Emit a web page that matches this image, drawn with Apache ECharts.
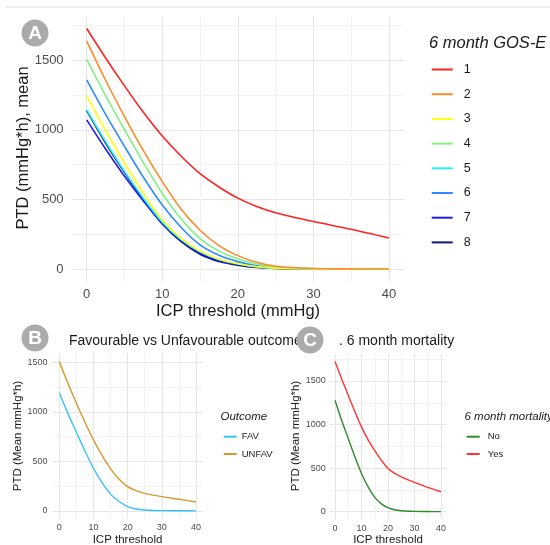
<!DOCTYPE html>
<html>
<head>
<meta charset="utf-8">
<script src="https://cdn.jsdelivr.net/npm/echarts@6.0.0/dist/echarts.min.js"></script>
<style>
html,body{margin:0;padding:0;background:#fff;}
#chart{width:550px;height:545px;}
</style>
</head>
<body>
<div id="chart"></div>
<script>
// ---- data ----
var thresholds = [0, 2.5, 5, 7.5, 10, 12.5, 15, 17.5, 20, 22.5, 25, 30, 35, 40];

var gosCategories = ['1', '2', '3', '4', '5', '6', '7', '8'];
var gos1 = [1726, 1515, 1315, 1125, 955, 810, 685, 590, 510, 450, 405, 342, 287, 224];
var gos2 = [1636, 1355, 1095, 850, 628, 430, 280, 170, 98, 50, 22, 6, 3, 2];
var gos3 = [1243, 995, 762, 545, 353, 220, 130, 72, 40, 18, 8, 3, 1, 0];
var gos4 = [1505, 1245, 1002, 765, 545, 360, 220, 130, 75, 38, 16, 5, 2, 1];
var gos5 = [1145, 915, 702, 510, 338, 212, 125, 70, 38, 18, 8, 3, 1, 0];
var gos6 = [1357, 1110, 881, 660, 461, 300, 175, 100, 55, 25, 11, 4, 2, 1];
var gos7 = [1071, 862, 667, 490, 328, 205, 115, 62, 34, 16, 7, 2, 1, 0];
var gos8 = [1138, 905, 695, 500, 325, 198, 108, 56, 30, 13, 6, 2, 1, 0];

var outcomeCategories = ['FAV', 'UNFAV'];
var fav = [1194, 985, 795, 605, 431, 285, 170, 95, 44, 20, 10, 3, 2, 1];
var unfav = [1507, 1290, 1087, 895, 717, 560, 425, 320, 246, 205, 178, 145, 118, 91];

var mortalityCategories = ['No', 'Yes'];
var mortNo = [1279, 1050, 840, 630, 439, 285, 165, 90, 46, 22, 11, 4, 2, 1];
var mortYes = [1725, 1525, 1336, 1150, 973, 825, 700, 590, 496, 440, 401, 336, 279, 229];

var xGridValues = [0, 5, 10, 15, 20, 25, 30, 35, 40];
var xLabelValues = [0, 10, 20, 30, 40];
var yGridValues = [0, 250, 500, 750, 1000, 1250, 1500, 1750];
var yGridValuesB = [0, 250, 500, 750, 1000, 1250, 1500];
var yLabelValues = [0, 500, 1000, 1500];

// ---- styles ----
var gosColors = ['#FF2222', '#FF8A2A', '#FFFF10', '#80F080', '#22F2F2', '#2E8CFF', '#1E1EF0', '#14147A'];
var outcomeColors = ['#36C2F2', '#D49A2E'];
var mortColors = ['#2E8B2E', '#FF3333'];
var FONT = '"Liberation Sans", Arial, sans-serif';
var TICK = '#4d4d4d';
var TITLE = '#1a1a1a';
var SMOOTH = 0.3;

function pairs(vals) {
  return thresholds.map(function (x, i) { return [x, vals[i]]; });
}
function plain(v) { return String(v); }

function xAx(gi, fs, margin) {
  return {
    type: 'value', gridIndex: gi, min: -2, max: 42,
    axisLine: { show: false },
    axisTick: { show: false, customValues: xGridValues },
    axisLabel: { customValues: xLabelValues, formatter: plain, color: TICK, fontSize: fs, fontFamily: FONT, margin: margin },
    splitLine: { show: true, lineStyle: { color: ['#e6e6e6', '#f2f2f2'], width: 1.1 } }
  };
}
function yAx(gi, min, max, gridVals, fs, margin) {
  return {
    type: 'value', gridIndex: gi, min: min, max: max,
    axisLine: { show: false },
    axisTick: { show: false, customValues: gridVals },
    axisLabel: { customValues: yLabelValues, formatter: plain, color: TICK, fontSize: fs, fontFamily: FONT, margin: margin },
    splitLine: { show: true, lineStyle: { color: ['#e6e6e6', '#f2f2f2'], width: 1.1 } }
  };
}

var gosData = [gos1, gos2, gos3, gos4, gos5, gos6, gos7, gos8];
var series = [];
gosCategories.forEach(function (name, i) {
  series.push({
    name: name, type: 'line', xAxisIndex: 0, yAxisIndex: 0,
    data: pairs(gosData[i]), symbol: 'none', smooth: SMOOTH,
    lineStyle: { color: gosColors[i], width: 1.6 }, itemStyle: { color: gosColors[i] },
    z: 10 - i, animation: false
  });
});
[fav, unfav].forEach(function (vals, i) {
  series.push({
    name: outcomeCategories[i], type: 'line', xAxisIndex: 1, yAxisIndex: 1,
    data: pairs(vals), symbol: 'none', smooth: SMOOTH,
    lineStyle: { color: outcomeColors[i], width: 1.4 }, itemStyle: { color: outcomeColors[i] },
    animation: false
  });
});
[mortNo, mortYes].forEach(function (vals, i) {
  series.push({
    name: mortalityCategories[i], type: 'line', xAxisIndex: 2, yAxisIndex: 2,
    data: pairs(vals), symbol: 'none', smooth: SMOOTH,
    lineStyle: { color: mortColors[i], width: 1.4 }, itemStyle: { color: mortColors[i] },
    animation: false
  });
});

function circleLabel(cx, cy, letter) {
  return [
    { type: 'circle', shape: { cx: cx, cy: cy, r: 13.5 }, style: { fill: '#ababab' }, z: 100 },
    { type: 'text', x: cx, y: cy + 1, style: { text: letter, fill: '#fff', font: 'bold 19px ' + FONT, align: 'center', verticalAlign: 'middle' }, z: 101 }
  ];
}
function txt(x, y, s, font, opts) {
  var o = { type: 'text', x: x, y: y, style: { text: s, fill: TITLE, font: font, align: 'left', verticalAlign: 'middle' }, z: 50 };
  if (opts) {
    if (opts.align) o.style.align = opts.align;
    if (opts.rotation) o.rotation = opts.rotation;
  }
  return o;
}

var graphics = [
  { type: 'line', shape: { x1: 6, y1: 7, x2: 550, y2: 7 }, style: { stroke: '#d9d9d9', lineWidth: 1 } },
  txt(238, 311, 'ICP threshold (mmHg)', '16.5px ' + FONT, { align: 'center' }),
  txt(23, 148, 'PTD (mmHg*h), mean', '16.5px ' + FONT, { align: 'center', rotation: Math.PI / 2 }),
  txt(127.5, 540, 'ICP threshold', '11.5px ' + FONT, { align: 'center' }),
  txt(18, 436, 'PTD (Mean mmHg*h)', '11.5px ' + FONT, { align: 'center', rotation: Math.PI / 2 }),
  txt(388, 540, 'ICP threshold', '11.5px ' + FONT, { align: 'center' }),
  txt(295.5, 436, 'PTD (Mean mmHg*h)', '11.5px ' + FONT, { align: 'center', rotation: Math.PI / 2 }),
  txt(69, 341, 'Favourable vs Unfavourable outcome', '14px ' + FONT),
  txt(339, 341, '. 6 month mortality', '14px ' + FONT),
  txt(429, 43, '6 month GOS-E', 'italic 16.5px ' + FONT),
  txt(220.5, 417, 'Outcome', 'italic 11.5px ' + FONT),
  txt(464.5, 417, '6 month mortality', 'italic 11.5px ' + FONT)
].concat(circleLabel(35, 33, 'A'), circleLabel(35, 338, 'B'), circleLabel(310, 340, 'C'));

var option = {
  backgroundColor: '#ffffff',
  animation: false,
  grid: [
    { left: 71.6, top: 16.5, width: 332.5, height: 264.8 },
    { left: 52.5, top: 353, width: 150.3, height: 165.5 },
    { left: 329.7, top: 353.9, width: 116.6, height: 165.3 }
  ],
  xAxis: [xAx(0, 13, 7), xAx(1, 9, 5), xAx(2, 9, 5)],
  yAxis: [
    yAx(0, -86, 1812, yGridValues, 13, 8),
    yAx(1, -76, 1594, yGridValuesB, 9, 5),
    yAx(2, -86, 1811, yGridValues, 9, 4)
  ],
  legend: [
    {
      data: gosCategories, orient: 'vertical', left: 430.7, top: 63, padding: 0,
      itemWidth: 21, itemHeight: 14, itemGap: 11.7,
      itemStyle: { opacity: 0 },
      textStyle: { fontSize: 12.5, color: TITLE, fontFamily: FONT, padding: [0, 0, 0, 6] },
      selectedMode: false
    },
    {
      data: outcomeCategories, orient: 'vertical', left: 222.7, top: 431.7, padding: 0,
      itemWidth: 13, itemHeight: 10, itemGap: 7.3,
      itemStyle: { opacity: 0 },
      textStyle: { fontSize: 9.5, color: TITLE, fontFamily: FONT },
      selectedMode: false
    },
    {
      data: mortalityCategories, orient: 'vertical', left: 465.7, top: 431.7, padding: 0,
      itemWidth: 13, itemHeight: 10, itemGap: 7.3,
      itemStyle: { opacity: 0 },
      textStyle: { fontSize: 9.5, color: TITLE, fontFamily: FONT, padding: [0, 0, 0, 3] },
      selectedMode: false
    }
  ],
  graphic: graphics,
  series: series
};

var chart = echarts.init(document.getElementById('chart'), null, { renderer: 'canvas' });
chart.setOption(option);
</script>
</body>
</html>
